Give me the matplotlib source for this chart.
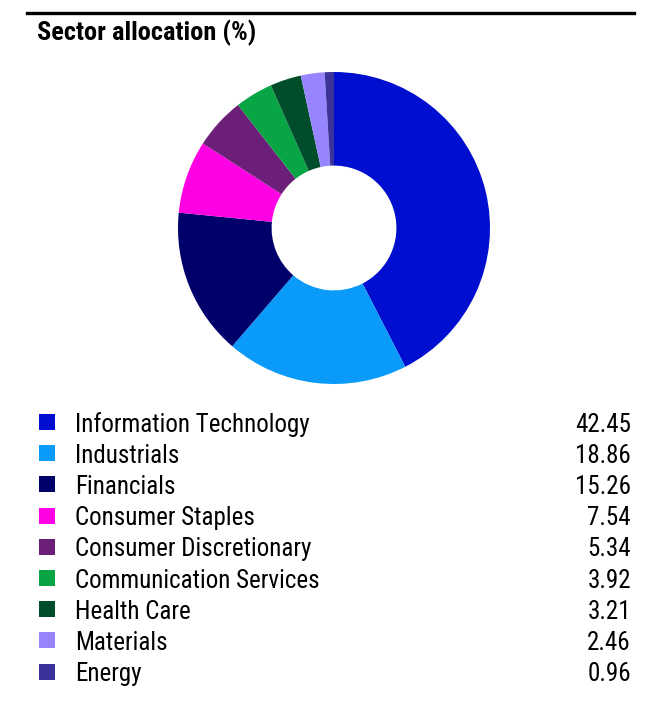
import matplotlib.pyplot as plt
from matplotlib.patches import Rectangle
from matplotlib.lines import Line2D

sectors = ['Information Technology', 'Industrials', 'Financials', 'Consumer Staples',
           'Consumer Discretionary', 'Communication Services', 'Health Care',
           'Materials', 'Energy']
values = [42.45, 18.86, 15.26, 7.54, 5.34, 3.92, 3.21, 2.46, 0.96]
colors = ['#000ecf', '#0a9afa', '#00006a', '#ff00e4', '#6b1f78', '#08a544',
          '#004d2b', '#9685ff', '#3a3399']

W, H = 662, 704
fig = plt.figure(figsize=(W / 100, H / 100), dpi=100)

font = ['Roboto Condensed', 'Liberation Sans', 'DejaVu Sans']

# header line + title
fig.add_artist(Line2D([27 / W, 634 / W], [1 - 13 / H, 1 - 13 / H], color='black', lw=2.4))
fig.text(37 / W, 1 - 33 / H, 'Sector allocation (%)', fontsize=19, fontweight='bold',
         family=font, va='center', ha='left')

# donut
cx, cy, r = 334, 228, 156
ax = fig.add_axes([(cx - r) / W, 1 - (cy + r) / H, 2 * r / W, 2 * r / H])
ax.pie(values, colors=colors, startangle=90, counterclock=False,
       wedgeprops=dict(width=0.6, edgecolor='none'))
ax.set_xlim(-1, 1)
ax.set_ylim(-1, 1)
ax.set_aspect('equal')
ax.axis('off')

# legend table
y0, dy = 422, 31.2
for i, (name, val, col) in enumerate(zip(sectors, values, colors)):
    y = y0 + i * dy
    fig.add_artist(Rectangle((39 / W, 1 - (y + 8) / H), 16 / W, 16 / H,
                             transform=fig.transFigure, facecolor=col, edgecolor='none'))
    fig.text(75 / W, 1 - y / H, name, fontsize=18, family=font, va='center_baseline', ha='left')
    fig.text(631 / W, 1 - y / H, f'{val:.2f}', fontsize=18, family=font,
             va='center_baseline', ha='right')

fig.savefig('out.png', dpi=100)
